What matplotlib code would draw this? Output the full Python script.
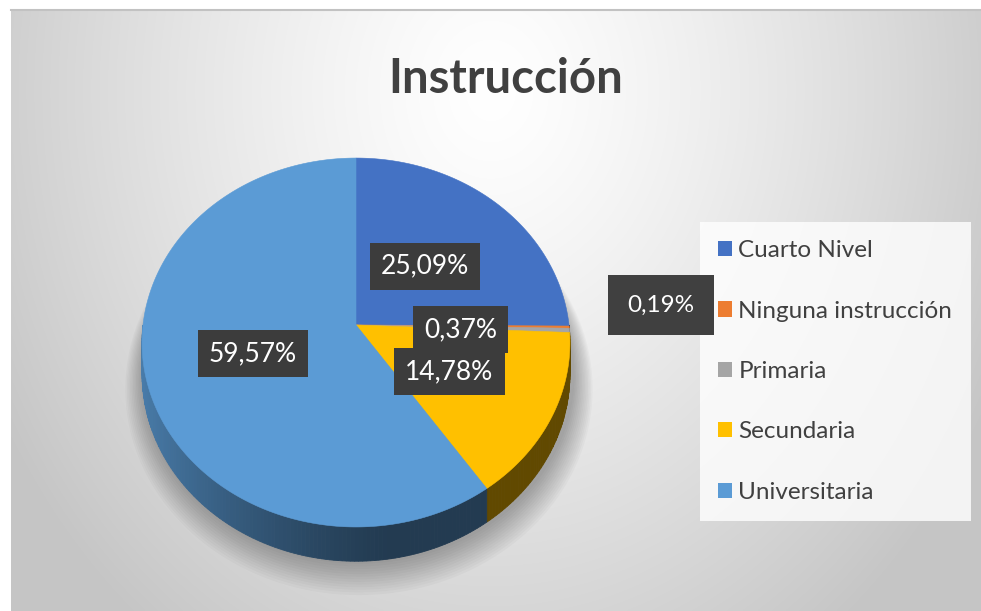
import numpy as np
import matplotlib
matplotlib.use('Agg')
import matplotlib.pyplot as plt
from matplotlib.patches import Polygon, Patch
from matplotlib.colors import to_rgb

# ---------------- data ----------------
categories = ['Cuarto Nivel', 'Ninguna instrucción', 'Primaria', 'Secundaria', 'Universitaria']
values = [25.09, 0.19, 0.37, 14.78, 59.57]
colors = ['#4472C4', '#ED7D31', '#A5A5A5', '#FFC000', '#5B9BD5']
title = 'Instrucción'

# label placement (radial fraction, vertical nudge in px)
label_r = [0.47, 1.43, 0.49, 0.49, 0.50]
label_dy = [0, -23, 2, 2, 1]

plt.rcParams['font.family'] = ['Lato', 'DejaVu Sans']

W, H = 981, 611
fig = plt.figure(figsize=(W / 100, H / 100), dpi=100)
ax = fig.add_axes([0, 0, 1, 1])

# ---------------- background gradient ----------------
yy, xx = np.mgrid[9:611:2, 11:981:2]
d = np.sqrt(((xx - 490) / 560.0) ** 2 + ((yy - 90) / 680.0) ** 2)
d = np.clip(d, 0, 1)
g = 1 - (1 - 0.775) * d ** 1.3
ax.imshow(np.dstack([g, g, g]), extent=(11, 981, 611, 9), aspect='auto',
          zorder=0, interpolation='bilinear')
ax.plot([11, 981], [10, 10], color='#c2c2c2', lw=1.5, zorder=1)

ax.set_xlim(0, W)
ax.set_ylim(H, 0)
ax.axis('off')

# ---------------- 3D pie geometry ----------------
cx, cy, A, B, p, D = 356, 325, 182.8, 213.0, 0.0949, 31.0


def proj(theta, r, depth=0.0):
    th = np.radians(theta)
    X = r * np.sin(th)
    Z = -r * np.cos(th)
    s = 1.0 / (1 - p * Z)
    return cx + B * X * s, cy + (A * Z + depth) * s


vals = np.array(values, dtype=float)
spans = vals / vals.sum() * 360.0
ends = np.cumsum(spans)
starts = ends - spans

# soft drop shadow
for k in range(1, 14):
    th = np.linspace(60, 300, 200)
    xs, ys = proj(th, 1 + k * 0.007, D + k * 0.9)
    ax.add_patch(Polygon(np.column_stack([xs + 3, ys]), closed=True,
                         facecolor='black', edgecolor='none', alpha=0.022, zorder=2))
th = np.linspace(0, 360, 361)
xs, ys = proj(th, 1.0, D)
ax.add_patch(Polygon(np.column_stack([xs, ys]), closed=True,
                     facecolor='#8a8a8a', edgecolor='none', alpha=0.25, zorder=2))

# sides
for i in range(len(vals)):
    lo, hi = max(starts[i], 90.0), min(ends[i], 270.0)
    if hi <= lo:
        continue
    base = np.array(to_rgb(colors[i]))
    n = max(1, int(np.ceil(hi - lo)))
    edges = np.linspace(lo, hi, n + 1)
    for t0, t1 in zip(edges[:-1], edges[1:]):
        tt = np.linspace(t0, t1, 3)
        xt, yt = proj(tt, 1.0)
        xb, yb = proj(tt[::-1], 1.0, D)
        X = np.sin(np.radians((t0 + t1) / 2))
        f = 0.38 + 0.42 * np.clip((0.15 - X) / 1.15, 0, 1) ** 1.3
        c = np.clip(base * f, 0, 1)
        pts = np.column_stack([np.concatenate([xt, xb]), np.concatenate([yt, yb])])
        ax.add_patch(Polygon(pts, closed=True, facecolor=c, edgecolor=c,
                             lw=0.6, zorder=3))

# top faces
for i in range(len(vals)):
    a, b = starts[i], ends[i]
    tt = np.linspace(a, b, max(3, int((b - a) * 2) + 2))
    xs, ys = proj(tt, 1.0)
    pts = np.vstack([[cx, cy], np.column_stack([xs, ys])])
    ax.add_patch(Polygon(pts, closed=True, facecolor=colors[i],
                         edgecolor=colors[i], lw=0.4, zorder=4))

# ---------------- data labels ----------------
for i in range(len(vals)):
    mid = (starts[i] + ends[i]) / 2
    lx, ly = proj(mid, label_r[i])
    ly = ly + label_dy[i]
    txt = f"{values[i]:.2f}".replace('.', ',') + '%'
    outside = label_r[i] > 1
    ax.text(lx, ly, txt, ha='center', va='center',
            fontsize=17.5 if outside else 19, color='white', zorder=10 + i,
            bbox=dict(boxstyle='square,pad=%s' % (0.8 if outside else 0.42),
                      facecolor='#3c3c3c' if not outside else '#404040',
                      edgecolor='none'))

# ---------------- legend ----------------
handles = [Patch(facecolor=c, edgecolor='none') for c in colors]
leg = ax.legend(handles, categories, loc='upper left',
                bbox_to_anchor=(700 / W, 1 - 222 / H), borderaxespad=0,
                fontsize=17.5, frameon=True, fancybox=False,
                handlelength=0.58, handleheight=0.58, handletextpad=0.25,
                labelspacing=1.62, borderpad=0.75)
leg.get_frame().set_facecolor((1, 1, 1, 0.22))
leg.get_frame().set_edgecolor('none')
leg.set_zorder(9)
for t in leg.get_texts():
    t.set_color('#404040')

# ---------------- title ----------------
ax.text(506, 93, title, ha='center', va='baseline', fontsize=34,
        fontweight='bold', color='#404040', zorder=12)

fig.savefig('out.png', dpi=100, facecolor='white')
